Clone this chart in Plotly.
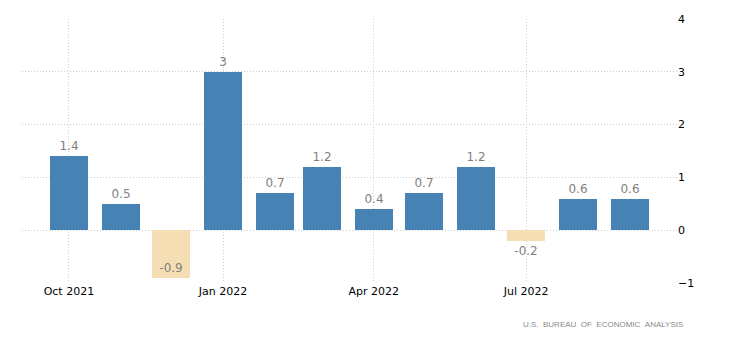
import plotly.graph_objects as go

# Monthly percent change, Oct 2021 - Sep 2022
months = ["2021-10-01", "2021-11-01", "2021-12-01", "2022-01-01", "2022-02-01", "2022-03-01",
          "2022-04-01", "2022-05-01", "2022-06-01", "2022-07-01", "2022-08-01", "2022-09-01"]
values = [1.4, 0.5, -0.9, 3, 0.7, 1.2, 0.4, 0.7, 1.2, -0.2, 0.6, 0.6]
tick_dates = ["2021-10-01", "2022-01-01", "2022-04-01", "2022-07-01"]
tick_labels = ["Oct 2021", "Jan 2022", "Apr 2022", "Jul 2022"]
y_ticks = [-1, 0, 1, 2, 3, 4]
source = "U.S.  BUREAU  OF  ECONOMIC  ANALYSIS"

POS = "#4682B4"
NEG = "#F5DEB3"
DAY_MS = 86400000

colors = [POS if v >= 0 else NEG for v in values]
labels = [f"{v:g}" for v in values]
positions = ["inside" if v < -0.5 else "outside" for v in values]

fig = go.Figure(go.Bar(
    x=months, y=values,
    width=[22.5 * DAY_MS] * len(values),
    marker=dict(color=colors, line=dict(width=0)),
    text=labels, textposition=positions, insidetextanchor="end",
    textfont=dict(color="#7f7f7f", size=12, family="DejaVu Sans"),
    cliponaxis=False,
))

grid = dict(showgrid=True, gridcolor="#cfcfcf", griddash="1px,2px", gridwidth=1)

fig.update_layout(
    width=730, height=350,
    margin=dict(l=22, r=53, t=19, b=67),
    plot_bgcolor="white", paper_bgcolor="white",
    showlegend=False, bargap=0,
    font=dict(family="DejaVu Sans", size=11, color="#000"),
    xaxis=dict(type="date", range=["2021-09-03", "2022-09-29"],
               tickvals=tick_dates, ticktext=tick_labels,
               ticks="", zeroline=False, showline=False, **grid),
    yaxis=dict(side="right", range=[-1, 4], tickvals=y_ticks,
               ticks="", zeroline=False, showline=False, **grid),
    annotations=[dict(
        text=source.replace(" ", "\u00a0"), xref="paper", yref="paper",
        x=1.0125, y=-0.159, xanchor="right", yanchor="middle", showarrow=False,
        font=dict(size=8, color="#8a8a8a", family="Liberation Sans"),
    )],
)

fig.write_html("out.html")
